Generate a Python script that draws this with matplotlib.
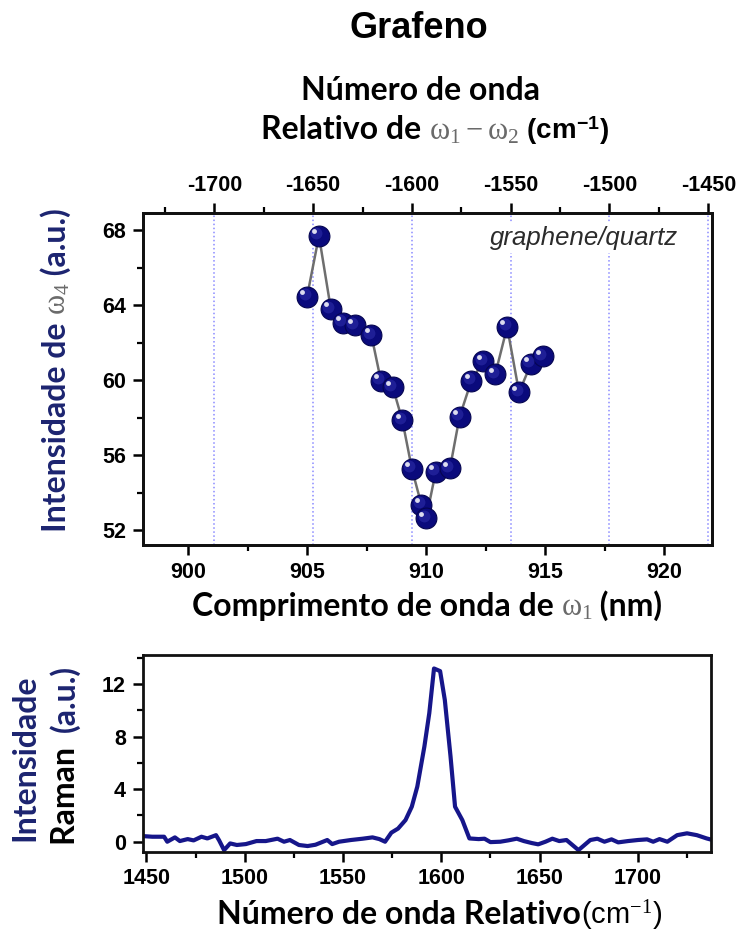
import numpy as np
import matplotlib.pyplot as plt
from matplotlib.ticker import MultipleLocator
from matplotlib.text import Annotation
from matplotlib.transforms import offset_copy

plt.rcParams['axes.unicode_minus'] = False
plt.rcParams['mathtext.fontset'] = 'custom'
plt.rcParams['mathtext.it'] = 'Liberation Serif'
plt.rcParams['mathtext.rm'] = 'Liberation Serif'
plt.rcParams['mathtext.bf'] = 'Liberation Sans:bold'

# sinal de omega_4 vs comprimento de onda de omega_1
comprimento = [905.0, 905.5, 906.0, 906.5, 907.0, 907.7, 908.1, 908.6, 909.0, 909.4, 909.8,
               910.0, 910.4, 911.0, 911.4, 911.9, 912.4, 912.9, 913.4, 913.9, 914.4, 914.9]
intensidade_w4 = [64.47, 67.71, 63.80, 63.08, 62.94, 62.41, 59.98, 59.62, 57.86, 55.28, 53.35,
                  52.63, 55.10, 55.30, 58.04, 59.98, 61.01, 60.32, 62.85, 59.35, 60.88, 61.28]

# espectro Raman do grafeno
raman_shift = [1448, 1453, 1459, 1460.6, 1464.5, 1467, 1471, 1474, 1478, 1481, 1485.4, 1487,
               1489.5, 1492.6, 1496, 1500.6, 1506, 1510.7, 1516.7, 1520, 1523, 1527.6, 1532,
               1536, 1542, 1544.5, 1548, 1554, 1560, 1565, 1568.5, 1571.4, 1574.6, 1578,
               1581.8, 1585, 1587.8, 1591.4, 1593.9, 1596.3, 1599.4, 1601.8, 1604.7, 1607,
               1610.7, 1614.3, 1619, 1622, 1625, 1630, 1634, 1638.4, 1642, 1646, 1649.3, 1653,
               1656.5, 1660, 1663.7, 1669.8, 1675.8, 1679.4, 1683, 1686.6, 1690, 1695, 1700,
               1704.7, 1707.8, 1711, 1715, 1720, 1725, 1730, 1735, 1738]
raman_int = [0.43, 0.38, 0.38, 0.0, 0.33, 0.05, 0.2, 0.1, 0.38, 0.25, 0.5, 0.1,
             -0.64, -0.13, -0.25, -0.18, 0.05, 0.05, 0.23, 0.0, 0.13, -0.25, -0.33,
             -0.23, 0.13, -0.18, 0.0, 0.13, 0.23, 0.33, 0.2, 0.0, 0.69, 1.0,
             1.65, 2.67, 4.2, 7.25, 9.8, 13.2, 13.0, 10.8, 6.5, 2.67,
             1.65, 0.25, 0.2, 0.23, -0.03, 0.0, 0.1, 0.23, 0.05, -0.1, -0.2, 0.0,
             0.23, 0.05, 0.13, -0.64, 0.13, 0.23, 0.0, 0.18, -0.05, 0.05, 0.13,
             0.18, 0.0, 0.2, 0.0, 0.5, 0.64, 0.5, 0.25, 0.13]

NAVY = '#0a0a7c'
AZUL_TXT = '#1c2470'
CINZA = '#6a6a6a'
LAB = dict(family='Lato', weight='bold', size=23)
TICK = dict(family='Liberation Sans', weight='bold', size=15.5)

fig = plt.figure(figsize=(7.42, 9.35), dpi=100)
ax = fig.add_axes([0.1923, 0.4171, 0.7673, 0.3554])
ax2 = fig.add_axes([0.1923, 0.0891, 0.7659, 0.2104])


def rotulo(partes, x, y, rot=0):
    # pecas de texto encadeadas pela linha de base, centradas em (x, y)
    arts = []
    for i, (s, kw) in enumerate(partes):
        if i == 0:
            t = fig.text(x, y, s, ha='left', va='baseline', rotation=rot,
                         rotation_mode='anchor', **kw)
        else:
            if rot == 0:
                xy, xyc = (1, y), (arts[-1], 'figure fraction')
            else:
                xy, xyc = (x, 1), ('figure fraction', arts[-1])
            t = Annotation(s, xy=xy, xycoords=xyc, ha='left', va='baseline',
                           rotation=rot, rotation_mode='anchor', **kw)
            fig.add_artist(t)
        arts.append(t)
    fig.canvas.draw()
    r = fig.canvas.get_renderer()
    bbs = [a.get_window_extent(r) for a in arts]
    W, H = fig.bbox.width, fig.bbox.height
    if rot == 0:
        x0 = min(b.x0 for b in bbs); x1 = max(b.x1 for b in bbs)
        arts[0].set_x(x - ((x0 + x1) / 2 / W - x))
    else:
        y0 = min(b.y0 for b in bbs); y1 = max(b.y1 for b in bbs)
        arts[0].set_y(y - ((y0 + y1) / 2 / H - y))
    return arts


# painel superior
ax.plot(comprimento, intensidade_w4, color='#6e6e6e', lw=1.8, zorder=2)
ax.plot(comprimento, intensidade_w4, ls='', marker='o', ms=15, mfc=NAVY,
        mec='#050550', mew=0.8, zorder=3)
brilho = offset_copy(ax.transData, fig=fig, x=-1.8, y=1.8, units='points')
ax.plot(comprimento, intensidade_w4, ls='', marker='o', ms=8.5, mfc='#2626a0',
        mec='none', alpha=0.75, transform=brilho, zorder=4)
brilho2 = offset_copy(ax.transData, fig=fig, x=-3.4, y=3.4, units='points')
ax.plot(comprimento, intensidade_w4, ls='', marker='o', ms=3.5, mfc='white',
        mec='none', alpha=0.85, transform=brilho2, zorder=5)

ax.set_xlim(898.1, 922)
ax.set_ylim(51.2, 68.95)
ax.xaxis.set_major_locator(MultipleLocator(5))
ax.xaxis.set_minor_locator(MultipleLocator(2.5))
ax.yaxis.set_major_locator(MultipleLocator(4))
ax.yaxis.set_minor_locator(MultipleLocator(2))

axt = ax.twiny()
axt.set_xlim(-1736.3, -1448.1)
axt.xaxis.set_major_locator(MultipleLocator(50))
axt.xaxis.set_minor_locator(MultipleLocator(25))
axt.xaxis.grid(True, which='major', ls=':', color='#8a8aff', lw=1.1)
ax.set_zorder(axt.get_zorder() + 1)
ax.patch.set_visible(False)

ax.text(0.94, 0.923, 'graphene/quartz', transform=ax.transAxes, ha='right', va='center',
        family='Liberation Sans', style='italic', size=18.5, color='#2b2b2b',
        bbox=dict(fc='white', ec='none', pad=2), zorder=6)

# painel inferior
ax2.plot(raman_shift, raman_int, color='#16168a', lw=3.0)
ax2.set_xlim(1448.1, 1737.2)
ax2.set_ylim(-0.76, 14.23)
ax2.xaxis.set_major_locator(MultipleLocator(50))
ax2.xaxis.set_minor_locator(MultipleLocator(25))
ax2.yaxis.set_major_locator(MultipleLocator(4))
ax2.yaxis.set_minor_locator(MultipleLocator(2))

for a in (ax, axt, ax2):
    for sp in a.spines.values():
        sp.set_linewidth(2.0)
        sp.set_color('#111111')
    a.tick_params(which='major', direction='out', length=7, width=1.8, pad=5)
    a.tick_params(which='minor', direction='out', length=4, width=1.6)
    for lab in a.get_xticklabels() + a.get_yticklabels():
        lab.update(TICK)
ax.tick_params(which='both', top=False, right=False)
axt.tick_params(which='both', top=True, bottom=False, labeltop=True, labelbottom=False)
ax2.tick_params(which='both', top=False, right=False)
ax2.tick_params(axis='x', pad=5)

# textos
fig.text(419 / 742, 1 - 28 / 935, 'Grafeno', ha='center', va='center',
         family='Liberation Sans', weight='bold', size=26)
fig.text(421 / 742, 1 - 91 / 935, 'Número de onda', ha='center', va='center', **LAB)

SERIF = dict(family='Liberation Serif', size=22, color=CINZA)
UNID = dict(family='Liberation Sans', weight='bold', size=20, color='black')

rotulo([('Relativo de ', LAB), (r'$\omega_1 - \omega_2$', SERIF),
        (r' (cm$^{\mathbf{-1}}$)', UNID)], 435 / 742, 1 - 139 / 935)
rotulo([('Comprimento de onda de ', LAB), (r'$\omega_1$', SERIF),
        (' (nm)', LAB)], 427 / 742, 1 - 616 / 935)
rotulo([('Intensidade de ', dict(LAB, color=AZUL_TXT)), (r'$\omega_4$', SERIF),
        (' (a.u.)', dict(LAB, color=AZUL_TXT))], 66 / 742, 1 - 370 / 935, rot=90)
rotulo([('Intensidade', dict(LAB, color=AZUL_TXT))], 34 / 742, 1 - 758 / 935, rot=90)
rotulo([('Raman  ', dict(LAB, color='black')), ('(a.u.)', dict(LAB, color=AZUL_TXT))],
       75 / 742, 1 - 755 / 935, rot=90)
rotulo([('Número de onda Relativo', LAB),
        (r'(cm$^{-1}$)', dict(family='Liberation Sans', size=21, color='black'))],
       440 / 742, 1 - 924 / 935)

fig.savefig('out.png', dpi=100)
